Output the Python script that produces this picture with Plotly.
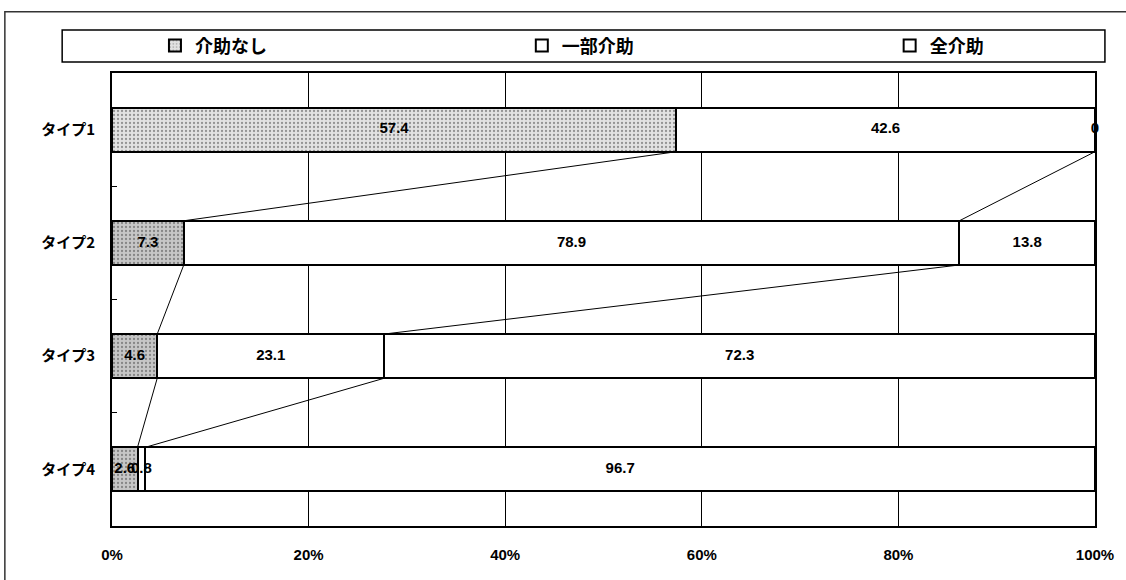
import numpy as np
import plotly.graph_objects as go

# Care level composition by type (%)
types = ["タイプ1", "タイプ2", "タイプ3", "タイプ4"]
series_names = ["介助なし", "一部介助", "全介助"]
no_assist = [57.4, 7.3, 4.6, 2.6]
partial_assist = [42.6, 78.9, 23.1, 0.8]
full_assist = [0, 13.8, 72.3, 96.7]
x_ticks = [0, 20, 40, 60, 80, 100]

values = np.array([no_assist, partial_assist, full_assist], dtype=float)
shares = values / values.sum(axis=0) * 100.0  # normalised to 100 % per type
ends = np.cumsum(shares, axis=0)               # right edge of each segment
mids = ends - shares / 2.0

ypos = np.arange(len(types))
bar_w = 0.39
font_lat = "Liberation Sans, Arial, sans-serif"
font_jp = "Noto Sans CJK JP, sans-serif"
legend_ids = ["legend", "legend2", "legend3"]
legend_x = [0.0437, 0.4169, 0.7911]

fig = go.Figure()

fills = [
    dict(color=["#e2e2e2", "#c6c6c6", "#c6c6c6", "#c6c6c6"],
         pattern=dict(shape=".", fgcolor="#8a8a8a", size=4, solidity=0.25)),
    dict(color="white"),
    dict(color="white"),
]
for i, name in enumerate(series_names):
    fig.add_trace(go.Bar(
        y=ypos, x=shares[i], orientation="h", name=name, width=bar_w,
        marker=dict(line=dict(color="black", width=2), **fills[i]),
        legend=legend_ids[i], hoverinfo="skip",
    ))

# series lines joining matching segment boundaries of neighbouring bars
for i in range(len(series_names) - 1):
    for k in range(len(types) - 1):
        fig.add_trace(go.Scatter(
            x=[ends[i, k], ends[i, k + 1]],
            y=[ypos[k] + bar_w / 2, ypos[k + 1] - bar_w / 2],
            mode="lines", line=dict(color="black", width=1),
            showlegend=False, hoverinfo="skip",
        ))

# value labels centred on each segment
for i in range(len(series_names)):
    fig.add_trace(go.Scatter(
        x=mids[i], y=ypos, mode="text", cliponaxis=False,
        text=[f"{v:g}" for v in values[i]],
        textfont=dict(family=font_lat, size=15, color="black", weight="bold"),
        showlegend=False, hoverinfo="skip",
    ))

legend_style = dict(
    orientation="h", xanchor="left", y=1.06, yanchor="middle",
    font=dict(family=font_jp, size=18, color="black", weight="bold"),
    bgcolor="rgba(0,0,0,0)", itemclick=False,
)

fig.update_layout(
    width=1126, height=580,
    margin=dict(l=112, r=26, t=73, b=54),
    paper_bgcolor="white", plot_bgcolor="white",
    barmode="stack", bargap=0.61,
    showlegend=True,
    legend=dict(x=legend_x[0], **legend_style),
    legend2=dict(x=legend_x[1], **legend_style),
    legend3=dict(x=legend_x[2], **legend_style),
    xaxis=dict(
        range=[0, 100], tickvals=x_ticks,
        ticktext=[f"{v}%" for v in x_ticks],
        showgrid=True, gridcolor="black", gridwidth=1,
        zeroline=False, showline=True, linecolor="black", linewidth=2,
        mirror=True, ticks="", ticklabelstandoff=14,
        tickfont=dict(family=font_lat, size=15, color="black", weight="bold"),
        fixedrange=True,
    ),
    yaxis=dict(
        range=[len(types) - 0.5, -0.5], tickvals=ypos, ticktext=types,
        showgrid=False, zeroline=False, showline=True, linecolor="black",
        linewidth=2, mirror=True, ticks="", ticklabelstandoff=12,
        tickfont=dict(family=font_jp, size=15, color="black", weight="bold"),
        minor=dict(tickvals=list(ypos[:-1] + 0.5), ticks="inside",
                   ticklen=5, tickcolor="black", tickwidth=1),
        fixedrange=True,
    ),
    shapes=[
        # outer frame of the chart
        dict(type="rect", xref="paper", yref="paper", x0=-0.109, x1=1.04,
             y0=-0.2, y1=1.135, line=dict(color="#333", width=1.5)),
        # legend box
        dict(type="rect", xref="paper", yref="paper", x0=-0.0507, x1=1.0101,
             y0=1.0243, y1=1.0949, line=dict(color="black", width=1.5)),
    ],
)

fig.write_html("out.html")
